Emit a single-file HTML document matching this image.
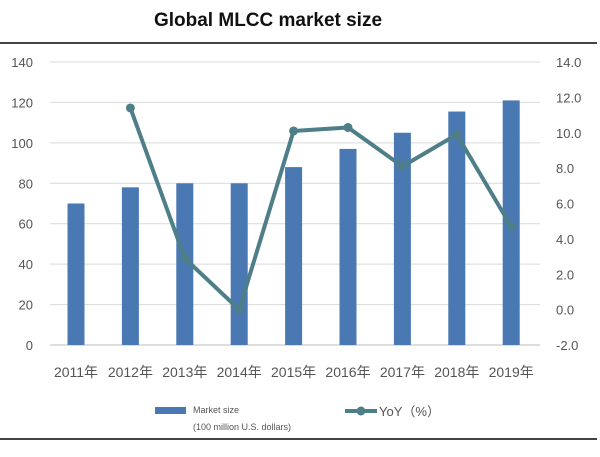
<!DOCTYPE html>
<html><head><meta charset="utf-8">
<style>
body{margin:0;background:#fff;width:600px;height:452px;overflow:hidden;font-family:"Liberation Sans","Noto Sans CJK SC",sans-serif}
</style></head>
<body>
<svg width="600" height="452">
<text x="268" y="26" text-anchor="middle" font-size="19" font-weight="bold" fill="#111">Global MLCC market size</text>
<line x1="0" y1="43" x2="597" y2="43" stroke="#444" stroke-width="2"/>
<line x1="0" y1="439" x2="597" y2="439" stroke="#444" stroke-width="2"/>
<g id="grid"></g><g id="bars"></g><g id="line"></g><g id="labels"></g>
<g>
<rect x="155" y="407" width="31" height="7" fill="#4a78b2"/>
<text x="193" y="413" font-size="9" fill="#555">Market size</text>
<text x="193" y="430" font-size="9" fill="#555">(100 million U.S. dollars)</text>
<line x1="345" y1="411" x2="377" y2="411" stroke="#4e7f88" stroke-width="4"/>
<circle cx="361" cy="411" r="4.5" fill="#4e7f88"/>
<text x="379" y="416" font-size="13" fill="#555">YoY（%）</text>
</g>
</svg>
<script>
const categories=["2011年","2012年","2013年","2014年","2015年","2016年","2017年","2018年","2019年"];
const marketSize=[70,78,80,80,88,97,105,115.5,121];
const yoy=[null,11.4,2.9,0.0,10.1,10.3,8.1,9.9,4.7];
const leftTicks=[0,20,40,60,80,100,120,140];
const rightTicks=["-2.0","0.0","2.0","4.0","6.0","8.0","10.0","12.0","14.0"];
const NS="http://www.w3.org/2000/svg";
const y0=345,y1=62,x0=50,x1=540;
const yL=v=>y0-(v/140)*(y0-y1);
const yR=v=>y0-((v+2)/16)*(y0-y1);
const xC=i=>76+i*54.4;
function mk(t,a,p){const e=document.createElementNS(NS,t);for(const k in a)e.setAttribute(k,a[k]);document.getElementById(p).appendChild(e);return e;}
leftTicks.forEach(v=>{
 const l=mk("line",{x1:x0,x2:x1,y1:yL(v),y2:yL(v),stroke:v===0?"#bbb":"#d9d9d9","stroke-width":1},"grid");
 
 
 const t=mk("text",{x:33,y:yL(v)+5,"text-anchor":"end","font-size":13,fill:"#555"},"labels");t.textContent=v;
 
 
});
rightTicks.forEach(s=>{
 const t=mk("text",{x:556,y:yR(parseFloat(s))+5,"font-size":13,fill:"#555"},"labels");t.textContent=s;
 
 
});
categories.forEach((c,i)=>{
 const r=mk("rect",{x:xC(i)-8.5,y:yL(marketSize[i]),width:17,height:y0-yL(marketSize[i]),fill:"#4a78b2"},"bars");
 
 
 const t=mk("text",{x:xC(i),y:377,"text-anchor":"middle","font-size":14,fill:"#555"},"labels");t.textContent=c;
 
 
});
let pts=[];yoy.forEach((v,i)=>{if(v!==null)pts.push([xC(i),yR(v)]);});
const pl=mk("polyline",{points:pts.map(p=>p.join(",")).join(" "),fill:"none",stroke:"#4e7f88","stroke-width":4,"stroke-linejoin":"round"},"line");


pts.forEach(p=>{
 const c=mk("circle",{cx:p[0],cy:p[1],r:4.5,fill:"#4e7f88"},"line");
 
 
});
</script>
</body></html>
